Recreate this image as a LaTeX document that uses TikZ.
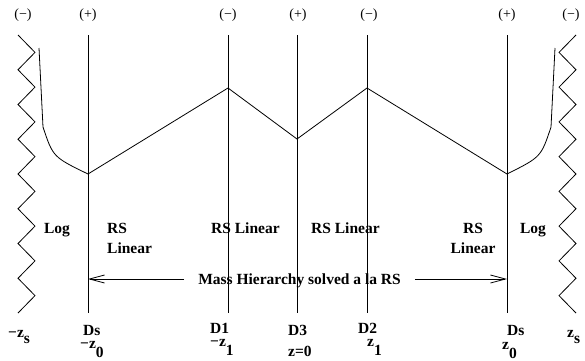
\documentclass[tikz,border=0pt]{standalone}
\usepackage{fontspec}
\setmainfont{Liberation Serif}
\usetikzlibrary{arrows.meta,
                positioning}

\newcommand{\lowr}[1]{\raisebox{-0.9\height}{#1}}

\begin{document}
\begin{tikzpicture}[x=1pt, y=-1pt,
                    brane/.style={line width=0.8pt},
                    warp/.style={line width=0.8pt},
                    txt/.style={font=\fontsize{15.5}{18}\selectfont\bfseries, inner sep=0pt, anchor=base west},
                    charge/.style={font=\fontsize{14}{16}\selectfont, inner sep=0pt},
                    hier/.style={line width=0.8pt, -{Straight Barb[length=15pt,width=8pt]}}
                    ]
    \useasboundingbox (0,0) rectangle (585,360);

    % BRANES %
    \foreach \name/\x in {DsL/88, D1/228, D3/297, D2/367, DsR/507}{
    \coordinate (\name t) at (\x,35);
    \coordinate (\name b) at (\x,313);
    \draw[brane] (\name t) -- (\name b);
    }

    % SINGULARITIES %
    \draw[brane] (18,35)
    \foreach \i in {0,...,7} { -- (35,{52.375+34.75*\i}) -- (18,{69.75+34.75*\i}) };
    \draw[brane] (576,35)
    \foreach \i in {0,...,7} { -- (559,{52.375+34.75*\i}) -- (576,{69.75+34.75*\i}) };

    % WARP FACTOR %
    \coordinate (W0) at (DsLt |- 0,174);
    \coordinate (W1) at (D1t |- 0,88);
    \coordinate (W2) at (D3t |- 0,139);
    \coordinate (W3) at (D2t |- 0,88);
    \coordinate (W4) at (DsRt |- 0,174);
    \draw[warp] (W0) -- (W1) -- (W2) -- (W3) -- (W4);
    \draw[warp] (39,48) -- (43,127) .. controls (53,157) .. (W0);
    \draw[warp] (555,48) -- (551,127) .. controls (541,157) .. (W4);

    % CHARGES %
    \foreach \x/\s [count=\n] in {23/−, 88/+, 228/−, 298/+, 369/−, 507/+, 571/−}
    \node[charge] (c\n) at (\x,15) {(\s)};

    % REGIONS %
    \node[txt, anchor=base] (logL) at (57,233) {Log};
    \node[txt] (rsL) at (107,233) {RS};
    \node[txt] (linL) at (107,253) {Linear};
    \node[txt] (rs1) at (211,233) {RS Linear};
    \node[txt] (rs2) at (311,233) {RS Linear};
    \node[txt, anchor=base] (rsR) at (473,233) {RS};
    \node[txt, anchor=base] (linR) at (473,253) {Linear};
    \node[txt, anchor=base] (logR) at (533,233) {Log};

    % HIERARCHY ARROW %
    \coordinate (hL) at (DsLt |- 0,279);
    \coordinate (hR) at (DsRt |- 0,279);
    \node[txt, anchor=base, inner xsep=14pt] (mass) at (299.5,284) {Mass Hierarchy solved a la RS};
    \draw[hier] (mass.west |- hL) -- (hL);
    \draw[hier] (mass.east |- hR) -- (hR);

    % POSITIONS %
    \node[txt] (zsL) at (8,337) {−z\lowr{s}};
    \node[txt] (dsL) at (83,335) {Ds};
    \node[txt] (z0L) at (80,348) {−z\lowr{0}};
    \node[txt] (d1) at (210,333) {D1};
    \node[txt] (z1L) at (210,346) {−z\lowr{1}};
    \node[txt] (d3) at (288,335) {D3};
    \node[txt] (zc) at (288,356) {z=0};
    \node[txt] (d2) at (358,333) {D2};
    \node[txt] (z1R) at (367,346) {z\lowr{1}};
    \node[txt] (dsR) at (507,335) {Ds};
    \node[txt] (z0R) at (502,349) {z\lowr{0}};
    \node[txt] (zsR) at (567,337) {z\lowr{s}};

\end{tikzpicture}
\end{document}
